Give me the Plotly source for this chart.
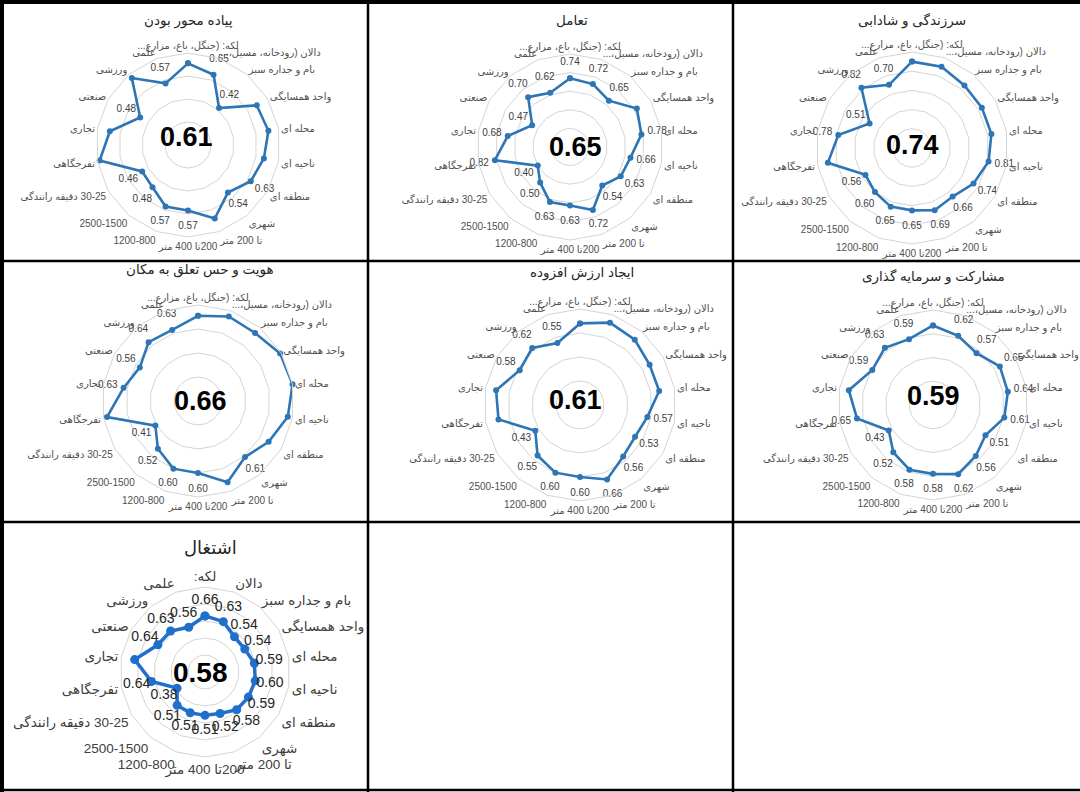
import plotly.graph_objects as go

W, H = 1080, 792

RLE, PDF = "\u202b", "\u202c"

categories_full = [
    "لکه: (جنگل، باغ، مزارع...",
    "دالان (رودخانه، مسیل،...",
    "بام و جداره سبز",
    "واحد همسایگی",
    "محله ای",
    "ناحیه ای",
    "منطقه ای",
    "شهری",
    "تا 200 متر",
    "200تا 400 متر",
    "1200-800",
    "2500-1500",
    "30-25 دقیقه رانندگی",
    "تفرجگاهی",
    "تجاری",
    "صنعتی",
    "ورزشی",
    "علمی",
]
categories_short = [
    "لکه:",
    "دالان",
    "بام و جداره سبز",
    "واحد همسایگی",
    "محله ای",
    "ناحیه ای",
    "منطقه ای",
    "شهری",
    "تا 200 متر",
    "200تا 400 متر",
    "1200-800",
    "2500-1500",
    "30-25 دقیقه رانندگی",
    "تفرجگاهی",
    "تجاری",
    "صنعتی",
    "ورزشی",
    "علمی",
]

titles = [
    "پیاده محور بودن",
    "تعامل",
    "سرزندگی و شادابی",
    "هویت و حس تعلق به مکان",
    "ایجاد ارزش افزوده",
    "مشارکت و سرمایه گذاری",
    "اشتغال",
]
center_values = ["0.61", "0.65", "0.74", "0.66", "0.61", "0.59", "0.58"]

walkability = [0.71, 0.65, 0.42, 0.69, 0.71, 0.67, 0.63, 0.54, 0.68, 0.57, 0.57, 0.48, 0.46, 0.78, 0.69, 0.48, 0.76, 0.57]
interaction = [0.74, 0.72, 0.65, 0.83, 0.78, 0.66, 0.63, 0.54, 0.72, 0.63, 0.63, 0.50, 0.40, 0.82, 0.68, 0.47, 0.70, 0.62]
vitality = [0.90, 0.90, 0.85, 0.84, 0.84, 0.81, 0.74, 0.66, 0.69, 0.65, 0.65, 0.60, 0.56, 0.89, 0.78, 0.51, 0.82, 0.70]
identity = [0.71, 0.75, 0.74, 0.79, 0.80, 0.76, 0.68, 0.61, 0.72, 0.60, 0.60, 0.52, 0.41, 0.77, 0.63, 0.56, 0.64, 0.63]
added_value = [0.68, 0.73, 0.71, 0.67, 0.67, 0.57, 0.53, 0.56, 0.66, 0.60, 0.60, 0.55, 0.43, 0.69, 0.71, 0.58, 0.62, 0.55]
participation = [0.67, 0.62, 0.57, 0.65, 0.64, 0.61, 0.51, 0.56, 0.62, 0.58, 0.58, 0.52, 0.43, 0.65, 0.72, 0.59, 0.63, 0.59]
employment = [0.66, 0.63, 0.54, 0.54, 0.59, 0.60, 0.59, 0.58, 0.52, 0.51, 0.51, 0.51, 0.38, 0.64, 0.84, 0.64, 0.63, 0.56]

series = [walkability, interaction, vitality, identity, added_value, participation, employment]

# layout of panels (pixel geometry): center x, center y, radius, radial max, title pos, center text pos
panels = [
    dict(cx=188, cy=145, R=92, rmax=0.8, tx=188, ty=21, lx=186, ly=137),
    dict(cx=570, cy=147, R=93, rmax=1.0, tx=572, ty=21, lx=575, ly=147),
    dict(cx=912, cy=148, R=96, rmax=1.0, tx=912, ty=21, lx=912, ly=145),
    dict(cx=198, cy=401, R=96, rmax=0.8, tx=200, ty=270, lx=200, ly=401),
    dict(cx=580, cy=405, R=96, rmax=0.8, tx=582, ty=273, lx=575, ly=400),
    dict(cx=933, cy=405, R=95, rmax=0.8, tx=933, ty=276, lx=933, ly=396),
    dict(cx=205, cy=672, R=85, rmax=1.0, tx=210, ty=548, lx=200, ly=672),
]

LINE = "#2E75B6"
LINE7 = "#1F6FCC"
GRID = "#D4D4D4"
FONT = "Liberation Sans, DejaVu Sans, sans-serif"


def rtl(s):
    return RLE + s + PDF


fig = go.Figure()
annotations = []
layout_polars = {}

for i, (vals, p) in enumerate(zip(series, panels)):
    big = i == 6
    cats = [rtl(c) for c in (categories_short if big else categories_full)]
    sub = "polar" if i == 0 else f"polar{i+1}"
    scale = p["R"] / p["rmax"]
    off = (15 if big else 16) / scale
    fig.add_trace(go.Scatterpolar(
        r=vals + [vals[0]], theta=cats + [cats[0]], subplot=sub,
        mode="lines+markers",
        line=dict(color=LINE7 if big else LINE, width=3.5 if big else 2.6),
        marker=dict(color=LINE7 if big else LINE, size=9 if big else 6),
        showlegend=False, hoverinfo="skip",
    ))
    fig.add_trace(go.Scatterpolar(
        r=[v + off for v in vals], theta=cats, subplot=sub,
        mode="text", text=[f"{v:.2f}" for v in vals],
        textfont=dict(family=FONT, size=14 if big else 10, color="#262626" if big else "#404040"),
        cliponaxis=False, showlegend=False, hoverinfo="skip",
    ))
    R, cx, cy = p["R"], p["cx"], p["cy"]
    layout_polars[sub] = dict(
        domain=dict(x=[(cx - R) / W, (cx + R) / W], y=[1 - (cy + R) / H, 1 - (cy - R) / H]),
        bgcolor="rgba(0,0,0,0)",
        gridshape="linear",
        radialaxis=dict(range=[0, p["rmax"]], dtick=0.2, showticklabels=False, ticks="",
                        showline=False, gridcolor=GRID, gridwidth=1),
        angularaxis=dict(direction="clockwise", rotation=90, showgrid=False, ticks="",
                         showline=True, linecolor=GRID, linewidth=1,
                         tickfont=dict(family=FONT, size=13.5 if big else 10,
                                       color="#404040" if big else "#505050")),
    )
    annotations.append(dict(
        x=p["tx"] / W, y=1 - p["ty"] / H, xref="paper", yref="paper",
        text=rtl(titles[i]), showarrow=False, xanchor="center", yanchor="middle",
        font=dict(family=FONT, size=18 if big else 13.5, color="#262626"),
    ))
    annotations.append(dict(
        x=p["lx"] / W, y=1 - p["ly"] / H, xref="paper", yref="paper",
        text=f"<b>{center_values[i]}</b>", showarrow=False, xanchor="center", yanchor="middle",
        font=dict(family=FONT, size=28 if big else 27, color="#000000"),
    ))

# table borders (pixel coordinates)
def hline(y, x0, x1, w):
    return dict(type="line", xref="paper", yref="paper", x0=x0 / W, x1=x1 / W,
                y0=1 - y / H, y1=1 - y / H, line=dict(color="black", width=w))

def vline(x, y0, y1, w):
    return dict(type="line", xref="paper", yref="paper", x0=x / W, x1=x / W,
                y0=1 - y0 / H, y1=1 - y1 / H, line=dict(color="black", width=w))

shapes = [
    hline(2, 0, W, 4),
    vline(2, 0, 792, 4),
    vline(368, 0, 792, 2.5),
    vline(733, 0, 792, 2.5),
    hline(261, 0, W, 2.5),
    hline(522, 0, W, 2.5),
    hline(790, 0, W, 2.5),
]

fig.update_layout(
    width=W, height=H,
    margin=dict(l=0, r=0, t=0, b=0),
    paper_bgcolor="white", plot_bgcolor="white",
    annotations=annotations, shapes=shapes,
    **layout_polars,
)

fig.write_html("out.html", config={"displayModeBar": False},
               post_script="document.body.style.margin='0';document.body.style.padding='0';")
